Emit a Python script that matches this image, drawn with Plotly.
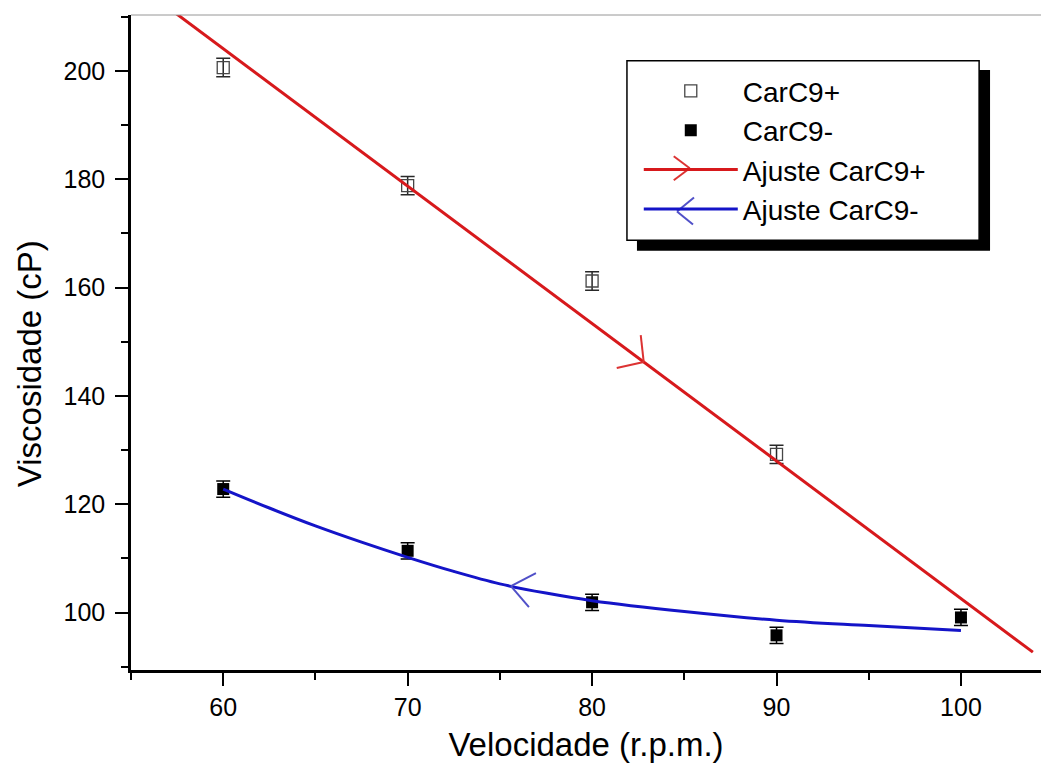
import numpy as np
import plotly.graph_objects as go

# ---- data ----
speed = [60, 70, 80, 90, 100]
visc_plus = [200.6, 178.8, 161.2, 129.2]          # CarC9+ (60..90)
err_plus = [1.7, 1.7, 1.7, 1.7]
visc_minus = [122.8, 111.4, 101.9, 95.8, 99.1]    # CarC9-
err_minus = [1.5, 1.5, 1.5, 1.5, 1.5]

fit_plus_x = [57.0, 103.9]
fit_plus_y = [211.7, 92.7]

fit_minus_x = [60, 62.5, 65, 67.5, 70, 72.5, 75, 77.5, 80, 85, 90, 95, 100]
fit_minus_y = [122.8, 119.3, 116.0, 113.0, 110.2, 107.6, 105.3, 103.6, 102.2,
               100.2, 98.6, 97.6, 96.7]

x_ticks = [60, 70, 80, 90, 100]
y_ticks = [100, 120, 140, 160, 180, 200]

RED = "rgb(215,25,28)"
BLUE = "rgb(20,20,200)"
RED_A = "rgb(220,50,50)"
BLUE_A = "rgb(80,80,200)"
FONT = "Liberation Sans, Arial, sans-serif"

fig = go.Figure()

fig.add_trace(go.Scatter(
    x=speed[:4], y=visc_plus, mode="markers", name="CarC9+",
    marker=dict(symbol="square-open", size=12, color="rgb(70,70,70)",
                line=dict(width=1.3)),
    error_y=dict(type="data", array=err_plus, color="rgb(40,40,40)",
                 thickness=1.5, width=7),
))
fig.add_trace(go.Scatter(
    x=speed, y=visc_minus, mode="markers", name="CarC9-",
    marker=dict(symbol="square", size=12, color="black"),
    error_y=dict(type="data", array=err_minus, color="black",
                 thickness=1.5, width=7),
))
fig.add_trace(go.Scatter(
    x=fit_plus_x, y=fit_plus_y, mode="lines", name="Ajuste CarC9+",
    line=dict(color=RED, width=3),
))
fig.add_trace(go.Scatter(
    x=fit_minus_x, y=fit_minus_y, mode="lines", name="Ajuste CarC9-",
    line=dict(color=BLUE, width=3, shape="spline"),
))

shapes = []

def arrow(xa, ya, xref, yref, arms, color, width=2):
    for dx, dy in arms:
        shapes.append(dict(type="line", xref=xref, yref=yref,
                           xsizemode="pixel", ysizemode="pixel",
                           xanchor=xa, yanchor=ya,
                           x0=0, y0=0, x1=dx, y1=dy,
                           line=dict(color=color, width=width), layer="above"))

# arrows on the fit lines, anchored on the fit curves
rx = 82.8
ry = float(np.interp(rx, fit_plus_x, fit_plus_y))
arrow(rx, ry, "x", "y", [(-3, 27), (-27, -6)], RED_A)
bx = 75.6
by = float(np.interp(bx, fit_minus_x, fit_minus_y))
arrow(bx, by, "x", "y", [(25, 13), (18, -21)], BLUE_A)

# legend box with shadow
shapes.append(dict(type="rect", xref="paper", yref="paper",
                   x0=0.556, x1=0.944, y0=0.640, y1=0.916,
                   fillcolor="black", line=dict(width=0), layer="above"))
shapes.append(dict(type="rect", xref="paper", yref="paper",
                   x0=0.545, x1=0.932, y0=0.656, y1=0.930,
                   fillcolor="white", line=dict(color="black", width=1.5),
                   layer="above"))
# arrows in legend line symbols
arrow(0.614, 0.766, "paper", "paper", [(-16, 12), (-16, -12)], RED_A)
arrow(0.600, 0.700, "paper", "paper", [(17, 14), (16, -13)], BLUE_A)

# thin gray top frame line
shapes.append(dict(type="line", xref="paper", yref="paper",
                   x0=0, x1=1, y0=1, y1=1,
                   line=dict(color="rgb(150,150,150)", width=1)))

fig.update_layout(
    width=1041, height=771,
    margin=dict(l=131, r=0, t=15, b=101),
    paper_bgcolor="white", plot_bgcolor="white",
    font=dict(family=FONT, color="black"),
    showlegend=True,
    legend=dict(x=0.558, y=0.922, xanchor="left", yanchor="top",
                bgcolor="rgba(0,0,0,0)", borderwidth=0,
                font=dict(size=28, family=FONT), itemwidth=94,
                tracegroupgap=0),
    shapes=shapes,
    annotations=[dict(text="Viscosidade (cP)", xref="paper", yref="paper",
                      x=-0.112, y=0.467, xanchor="center", yanchor="middle",
                      textangle=-90, showarrow=False,
                      font=dict(size=33, family=FONT))],
)

fig.update_xaxes(
    range=[55, 104.34], tickvals=x_ticks, ticktext=[str(v) for v in x_ticks],
    showgrid=False, zeroline=False, showline=True, linecolor="black",
    linewidth=2.5, ticks="outside", ticklen=13, tickwidth=2, tickcolor="black",
    tickfont=dict(size=25), ticklabelstandoff=0,
    minor=dict(dtick=5, tick0=55, ticks="outside", ticklen=7, tickwidth=2,
               tickcolor="black", showgrid=False),
    title=dict(text="Velocidade (r.p.m.)", font=dict(size=33), standoff=14),
)
fig.update_yaxes(
    range=[89.4, 210.3], tickvals=y_ticks, ticktext=[str(v) for v in y_ticks],
    showgrid=False, zeroline=False, showline=True, linecolor="black",
    linewidth=2.5, ticks="outside", ticklen=13, tickwidth=2, tickcolor="black",
    tickfont=dict(size=25), ticklabelstandoff=5,
    minor=dict(dtick=10, tick0=90, ticks="outside", ticklen=7, tickwidth=2,
               tickcolor="black", showgrid=False),
)

fig.write_html("out.html")
